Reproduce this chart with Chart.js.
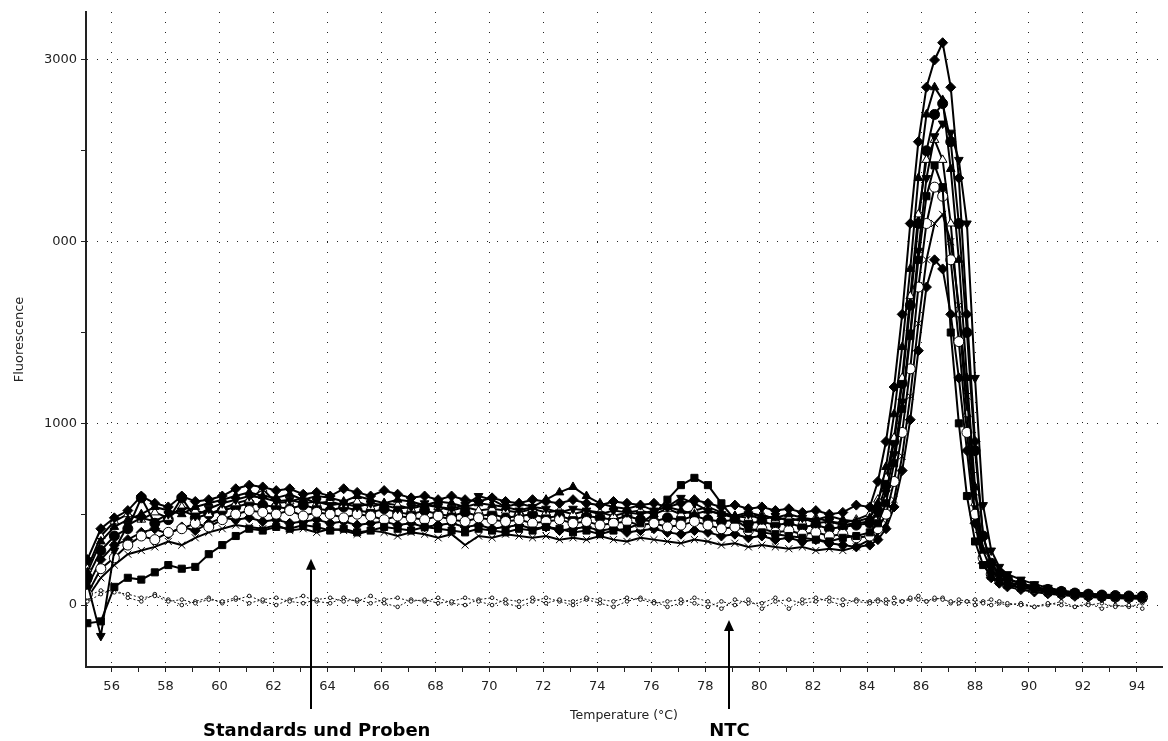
<!DOCTYPE html>
<html>
<head>
<meta charset="utf-8">
<script src="https://cdn.jsdelivr.net/npm/chart.js@4/dist/chart.umd.min.js"></script>
<style>
  html, body { margin: 0; padding: 0; background: #fff; }
  #meltChart { display: block; }
</style>
</head>
<body>
<canvas id="meltChart" width="1168" height="741"></canvas>
<script>
'use strict';

// melt temperatures (°C), finer steps across the melting peak
const temps = [
    55.1, 55.6, 56.1, 56.6, 57.1, 57.6, 58.1, 58.6, 59.1, 59.6,
    60.1, 60.6, 61.1, 61.6, 62.1, 62.6, 63.1, 63.6, 64.1, 64.6,
    65.1, 65.6, 66.1, 66.6, 67.1, 67.6, 68.1, 68.6, 69.1, 69.6,
    70.1, 70.6, 71.1, 71.6, 72.1, 72.6, 73.1, 73.6, 74.1, 74.6,
    75.1, 75.6, 76.1, 76.6, 77.1, 77.6, 78.1, 78.6, 79.1, 79.6,
    80.1, 80.6, 81.1, 81.6, 82.1, 82.6, 83.1, 83.6, 84.1,
    84.4, 84.7, 85.0, 85.3, 85.6, 85.9, 86.2, 86.5, 86.8, 87.1,
    87.4, 87.7, 88.0, 88.3, 88.6, 88.9, 89.2,
    89.7, 90.2, 90.7, 91.2, 91.7, 92.2, 92.7, 93.2, 93.7, 94.2
];

// -dF/dT for standards and samples
const sample1 = [
    250, 420, 480, 520, 600, 560, 540, 600, 570, 580,
    600, 640, 660, 650, 630, 640, 610, 620, 600, 640,
    620, 600, 630, 610, 590, 600, 580, 600, 580, 570,
    590, 570, 560, 580, 570, 560, 580, 560, 550, 570,
    560, 550, 560, 540, 560, 580, 560, 540, 550, 530,
    540, 520, 530, 510, 520, 500, 510, 550, 540,
    680, 900, 1200, 1600, 2100, 2550, 2850, 3000, 3095, 2850,
    2350, 1600, 900, 380, 220, 170, 140,
    120, 100, 85, 75, 65, 60, 55, 50, 48, 45
];
const sample2 = [
    180, 350, 430, 470, 500, 540, 520, 500, 540, 560,
    580, 600, 620, 600, 590, 610, 580, 600, 590, 570,
    600, 580, 560, 580, 570, 550, 570, 560, 540, 560,
    550, 540, 560, 540, 580, 620, 650, 600, 560, 540,
    530, 550, 520, 540, 520, 500, 520, 500, 490, 510,
    490, 480, 500, 480, 470, 490, 470, 460, 480,
    560, 760, 1050, 1420, 1850, 2350, 2700, 2850, 2780, 2400,
    1900, 1250, 650, 300, 190, 150, 125,
    110, 95, 80, 70, 62, 58, 52, 50, 46, 42
];
const sample3 = [
    -100, -90, 100, 150, 140, 180, 220, 200, 210, 280,
    330, 380, 420, 410, 430, 420, 440, 430, 410, 420,
    400, 410, 430, 420, 410, 430, 420, 410, 400, 420,
    410, 400, 420, 410, 430, 420, 400, 410, 390, 410,
    420, 450, 500, 580, 660, 700, 660, 560, 470, 420,
    400, 390, 380, 370, 360, 350, 370, 380, 400,
    450, 560, 780, 1080, 1480, 1900, 2250, 2420, 2300, 1500,
    1000, 600, 350, 220, 160, 130, 110,
    95, 85, 70, 62, 55, 50, 45, 42, 40, 38
];
const sample4 = [
    120, -170, 300, 440, 480, 460, 500, 520, 490, 530,
    560, 580, 600, 590, 570, 580, 560, 570, 550, 560,
    540, 560, 550, 530, 540, 560, 540, 530, 550, 600,
    580, 540, 520, 540, 530, 510, 530, 520, 500, 520,
    510, 500, 520, 540, 590, 560, 520, 500, 480, 500,
    470, 490, 460, 480, 450, 460, 440, 450, 460,
    500, 620, 830, 1120, 1500, 1950, 2350, 2580, 2650, 2600,
    2450, 2100, 1250, 550, 300, 210, 170,
    140, 115, 95, 80, 70, 62, 58, 55, 52, 50
];
const sample5 = [
    60, 200, 260, 330, 380, 360, 400, 420, 450, 430,
    470, 500, 520, 510, 500, 520, 490, 510, 500, 480,
    500, 490, 470, 490, 480, 470, 490, 470, 460, 480,
    470, 460, 470, 450, 460, 470, 450, 460, 440, 450,
    460, 440, 450, 430, 440, 460, 440, 420, 430, 410,
    420, 400, 410, 390, 400, 380, 390, 370, 380,
    420, 500, 680, 950, 1300, 1750, 2100, 2300, 2250, 1900,
    1450, 950, 500, 260, 170, 140, 120,
    100, 88, 75, 65, 58, 52, 48, 45, 42, 40
];
const sample6 = [
    40, 150, 220, 280, 300, 320, 350, 330, 370, 400,
    420, 440, 430, 420, 440, 410, 420, 400, 420, 410,
    390, 410, 400, 380, 400, 390, 370, 390, 330, 380,
    370, 390, 380, 370, 380, 360, 370, 360, 380, 360,
    350, 370, 360, 350, 340, 360, 350, 330, 340, 320,
    330, 320, 310, 320, 300, 310, 300, 320, 360,
    390, 450, 580, 820, 1150, 1550, 1900, 2100, 2150, 2000,
    1650, 1150, 620, 300, 190, 150, 125,
    105, 90, 78, 68, 60, 55, 50, 46, 44, 42
];
const sample7 = [
    200, 380, 460, 500, 470, 510, 480, 540, 520, 500,
    530, 560, 580, 640, 560, 570, 590, 560, 570, 550,
    570, 540, 560, 550, 530, 550, 540, 520, 540, 520,
    530, 520, 510, 530, 510, 520, 500, 520, 510, 490,
    510, 520, 500, 530, 500, 520, 540, 510, 490, 480,
    500, 470, 480, 460, 480, 460, 450, 470, 500,
    580, 700, 920, 1250, 1700, 2150, 2450, 2560, 2450, 2100,
    1600, 1050, 560, 280, 180, 145, 120,
    100, 85, 72, 64, 56, 50, 46, 43, 40, 36
];
const sample8 = [
    150, 300, 380, 420, 590, 450, 470, 590, 480, 500,
    520, 540, 560, 550, 540, 530, 550, 530, 520, 540,
    520, 510, 530, 510, 500, 520, 500, 490, 510, 490,
    500, 480, 490, 500, 480, 490, 470, 490, 480, 470,
    490, 470, 460, 480, 470, 490, 470, 460, 470, 450,
    460, 440, 450, 430, 440, 420, 430, 440, 450,
    520, 660, 900, 1220, 1650, 2100, 2500, 2700, 2760, 2550,
    2100, 1500, 850, 380, 230, 175, 145,
    120, 100, 86, 75, 66, 60, 55, 52, 50, 48
];
const sample9 = [
    100, 250, 330, 360, 400, 420, 390, 430, 410, 450,
    480, 470, 480, 460, 470, 450, 460, 470, 450, 460,
    440, 450, 460, 440, 450, 430, 440, 450, 430, 440,
    420, 430, 440, 420, 430, 410, 420, 430, 410, 420,
    400, 410, 420, 400, 390, 410, 400, 380, 390, 370,
    380, 360, 370, 350, 360, 340, 330, 320, 330,
    360, 420, 540, 740, 1020, 1400, 1750, 1900, 1850, 1600,
    1250, 850, 450, 230, 150, 120, 100,
    85, 72, 62, 55, 48, 44, 40, 38, 36, 34
];

// no template controls
const ntc1 = [
    50, 80, 70, 60, 40, 50, 20, 30, 10, 30,
    20, 40, 10, 30, 40, 20, 10, 30, 40, 20,
    30, 10, 30, 40, 20, 30, 10, 20, 40, 20,
    0, 30, 20, 40, 10, 30, 20, 40, 30, 20,
    40, 30, 10, 20, 30, 10, -10, 20, 0, 30,
    -20, 20, 30, 10, 20, 40, 30, 20, 10,
    20, 30, 10, 20, 40, 30, 20, 40, 30, 20,
    10, 20, 30, 10, 0, 20, 10,
    0, -10, 10, 0, -10, 0, 10, -10, 0, -20
];
const ntc2 = [
    20, 60, 90, 40, 20, 60, 30, 0, 20, 40,
    10, 30, 50, 20, 0, 30, 50, 20, 10, 40,
    20, 50, 10, -10, 30, 20, 40, 10, 0, 30,
    40, 10, -10, 20, 40, 20, 0, 30, 10, -10,
    20, 40, 20, -10, 10, 40, 20, -20, 30, 10,
    10, 40, -20, 30, 40, 20, 0, 30, 20,
    30, 10, 40, 20, 30, 50, 20, 30, 40, 10,
    30, 20, 0, 20, 30, 10, 0,
    10, -10, 0, 20, -10, 10, -20, 0, -10, 10
];

const xTicks = [
    56, 57, 58, 59, 60, 61, 62, 63, 64, 65, 66, 67, 68, 69, 70, 71, 72, 73, 74, 75,
    76, 77, 78, 79, 80, 81, 82, 83, 84, 85, 86, 87, 88, 89, 90, 91, 92, 93, 94
];
const xTickLabels = [
    '56', '', '58', '', '60', '', '62', '', '64', '', '66', '', '68', '', '70', '', '72', '', '74', '',
    '76', '', '78', '', '80', '', '82', '', '84', '', '86', '', '88', '', '90', '', '92', '', '94'
];
const yTicks = [0, 500, 1000, 1500, 2000, 2500, 3000];
const yTickLabels = ['0', '', '1000', '', '000', '', '3000'];

const notes = [
    { text: 'Standards und Proben', at: 63.4, tip: 255, textAt: 63.6 },
    { text: 'NTC', at: 78.9, tip: -82, textAt: 78.9 }
];

Chart.defaults.font.family = '"DejaVu Sans", sans-serif';

const samples = [sample1, sample2, sample3, sample4, sample5, sample6, sample7, sample8, sample9];
const markers = [
    { style: 'rectRot', fill: '#000', rot: 0 },
    { style: 'triangle', fill: '#000', rot: 0 },
    { style: 'rect', fill: '#000', rot: 0 },
    { style: 'triangle', fill: '#000', rot: 180 },
    { style: 'circle', fill: '#fff', rot: 0 },
    { style: 'crossRot', fill: '#fff', rot: 0 },
    { style: 'triangle', fill: '#fff', rot: 0 },
    { style: 'circle', fill: '#000', rot: 0 },
    { style: 'rectRot', fill: '#000', rot: 0 }
];

function toPoints(values) {
    return temps.map((t, i) => ({ x: t, y: values[i] }));
}

let datasets = [];
for (let i = 0; i < samples.length; i++) {
    let m = markers[i];
    datasets.push({
        label: 'Probe ' + (i + 1),
        data: toPoints(samples[i]),
        borderColor: '#000',
        borderWidth: 2,
        pointStyle: m.style,
        pointRotation: m.rot,
        pointRadius: 5,
        pointBorderWidth: 1,
        pointBorderColor: '#000',
        pointBackgroundColor: m.fill,
        tension: 0
    });
}
for (let ntc of [ntc1, ntc2]) {
    datasets.push({
        label: 'NTC',
        data: toPoints(ntc),
        borderColor: '#111',
        borderWidth: 1,
        borderDash: [2, 2],
        pointStyle: 'circle',
        pointRadius: 1.8,
        pointBorderWidth: 1,
        pointBorderColor: '#111',
        pointBackgroundColor: '#fff',
        tension: 0
    });
}

// arrows with bold captions under the axis
const noteArrows = {
    id: 'noteArrows',
    afterDraw(chart) {
        const { ctx, scales: { x, y } } = chart;
        ctx.save();
        ctx.strokeStyle = '#000';
        ctx.fillStyle = '#000';
        ctx.lineWidth = 2;
        ctx.font = 'bold 18px "DejaVu Sans", sans-serif';
        ctx.textAlign = 'center';
        ctx.textBaseline = 'middle';
        for (let n of notes) {
            let px = Math.round(x.getPixelForValue(n.at));
            let tipY = y.getPixelForValue(n.tip);
            let tailY = chart.height - 32;
            ctx.beginPath();
            ctx.moveTo(px, tailY);
            ctx.lineTo(px, tipY + 8);
            ctx.stroke();
            ctx.beginPath();
            ctx.moveTo(px, tipY);
            ctx.lineTo(px - 5, tipY + 11);
            ctx.lineTo(px + 5, tipY + 11);
            ctx.closePath();
            ctx.fill();
            ctx.fillText(n.text, x.getPixelForValue(n.textAt), chart.height - 10);
        }
        ctx.restore();
    }
};

new Chart(document.querySelector('#meltChart'), {
    type: 'line',
    data: { datasets: datasets },
    options: {
        responsive: false,
        animation: false,
        layout: { padding: { top: 12, right: 2, left: 0, bottom: 0 } },
        plugins: {
            legend: { display: false },
            tooltip: { enabled: false }
        },
        scales: {
            x: {
                type: 'linear',
                min: 55.05,
                max: 94.93,
                afterBuildTicks: s => { s.ticks = xTicks.map(v => ({ value: v })); },
                afterFit: s => { s.height = 74; },
                ticks: {
                    autoSkip: false,
                    maxRotation: 0,
                    padding: 7,
                    color: '#222',
                    font: { size: 13 },
                    callback: (v, i) => xTickLabels[i]
                },
                grid: {
                    color: c => (c.tick && c.tick.value % 2 === 0) ? '#222' : 'rgba(0,0,0,0)',
                    tickColor: '#222',
                    tickLength: 5,
                    lineWidth: 1
                },
                border: { color: '#222', width: 2, dash: [1, 9] },
                title: {
                    display: true,
                    text: 'Temperature (°C)',
                    color: '#222',
                    font: { size: 12.5 },
                    padding: { top: 0, bottom: 18 }
                }
            },
            y: {
                min: -341,
                max: 3264,
                afterBuildTicks: s => { s.ticks = yTicks.map(v => ({ value: v })); },
                afterFit: s => { s.width = 86; },
                ticks: {
                    padding: 4,
                    color: '#222',
                    font: { size: 13 },
                    callback: (v, i) => yTickLabels[i]
                },
                grid: {
                    color: c => (c.tick && c.tick.value % 1000 === 0) ? '#222' : 'rgba(0,0,0,0)',
                    tickColor: '#222',
                    tickLength: 5,
                    lineWidth: 1
                },
                border: { color: '#222', width: 2, dash: [1, 9] },
                title: {
                    display: true,
                    text: 'Fluorescence',
                    color: '#222',
                    font: { size: 13 },
                    padding: { top: 12, bottom: 0 }
                }
            }
        }
    },
    plugins: [noteArrows]
});
</script>
</body>
</html>
